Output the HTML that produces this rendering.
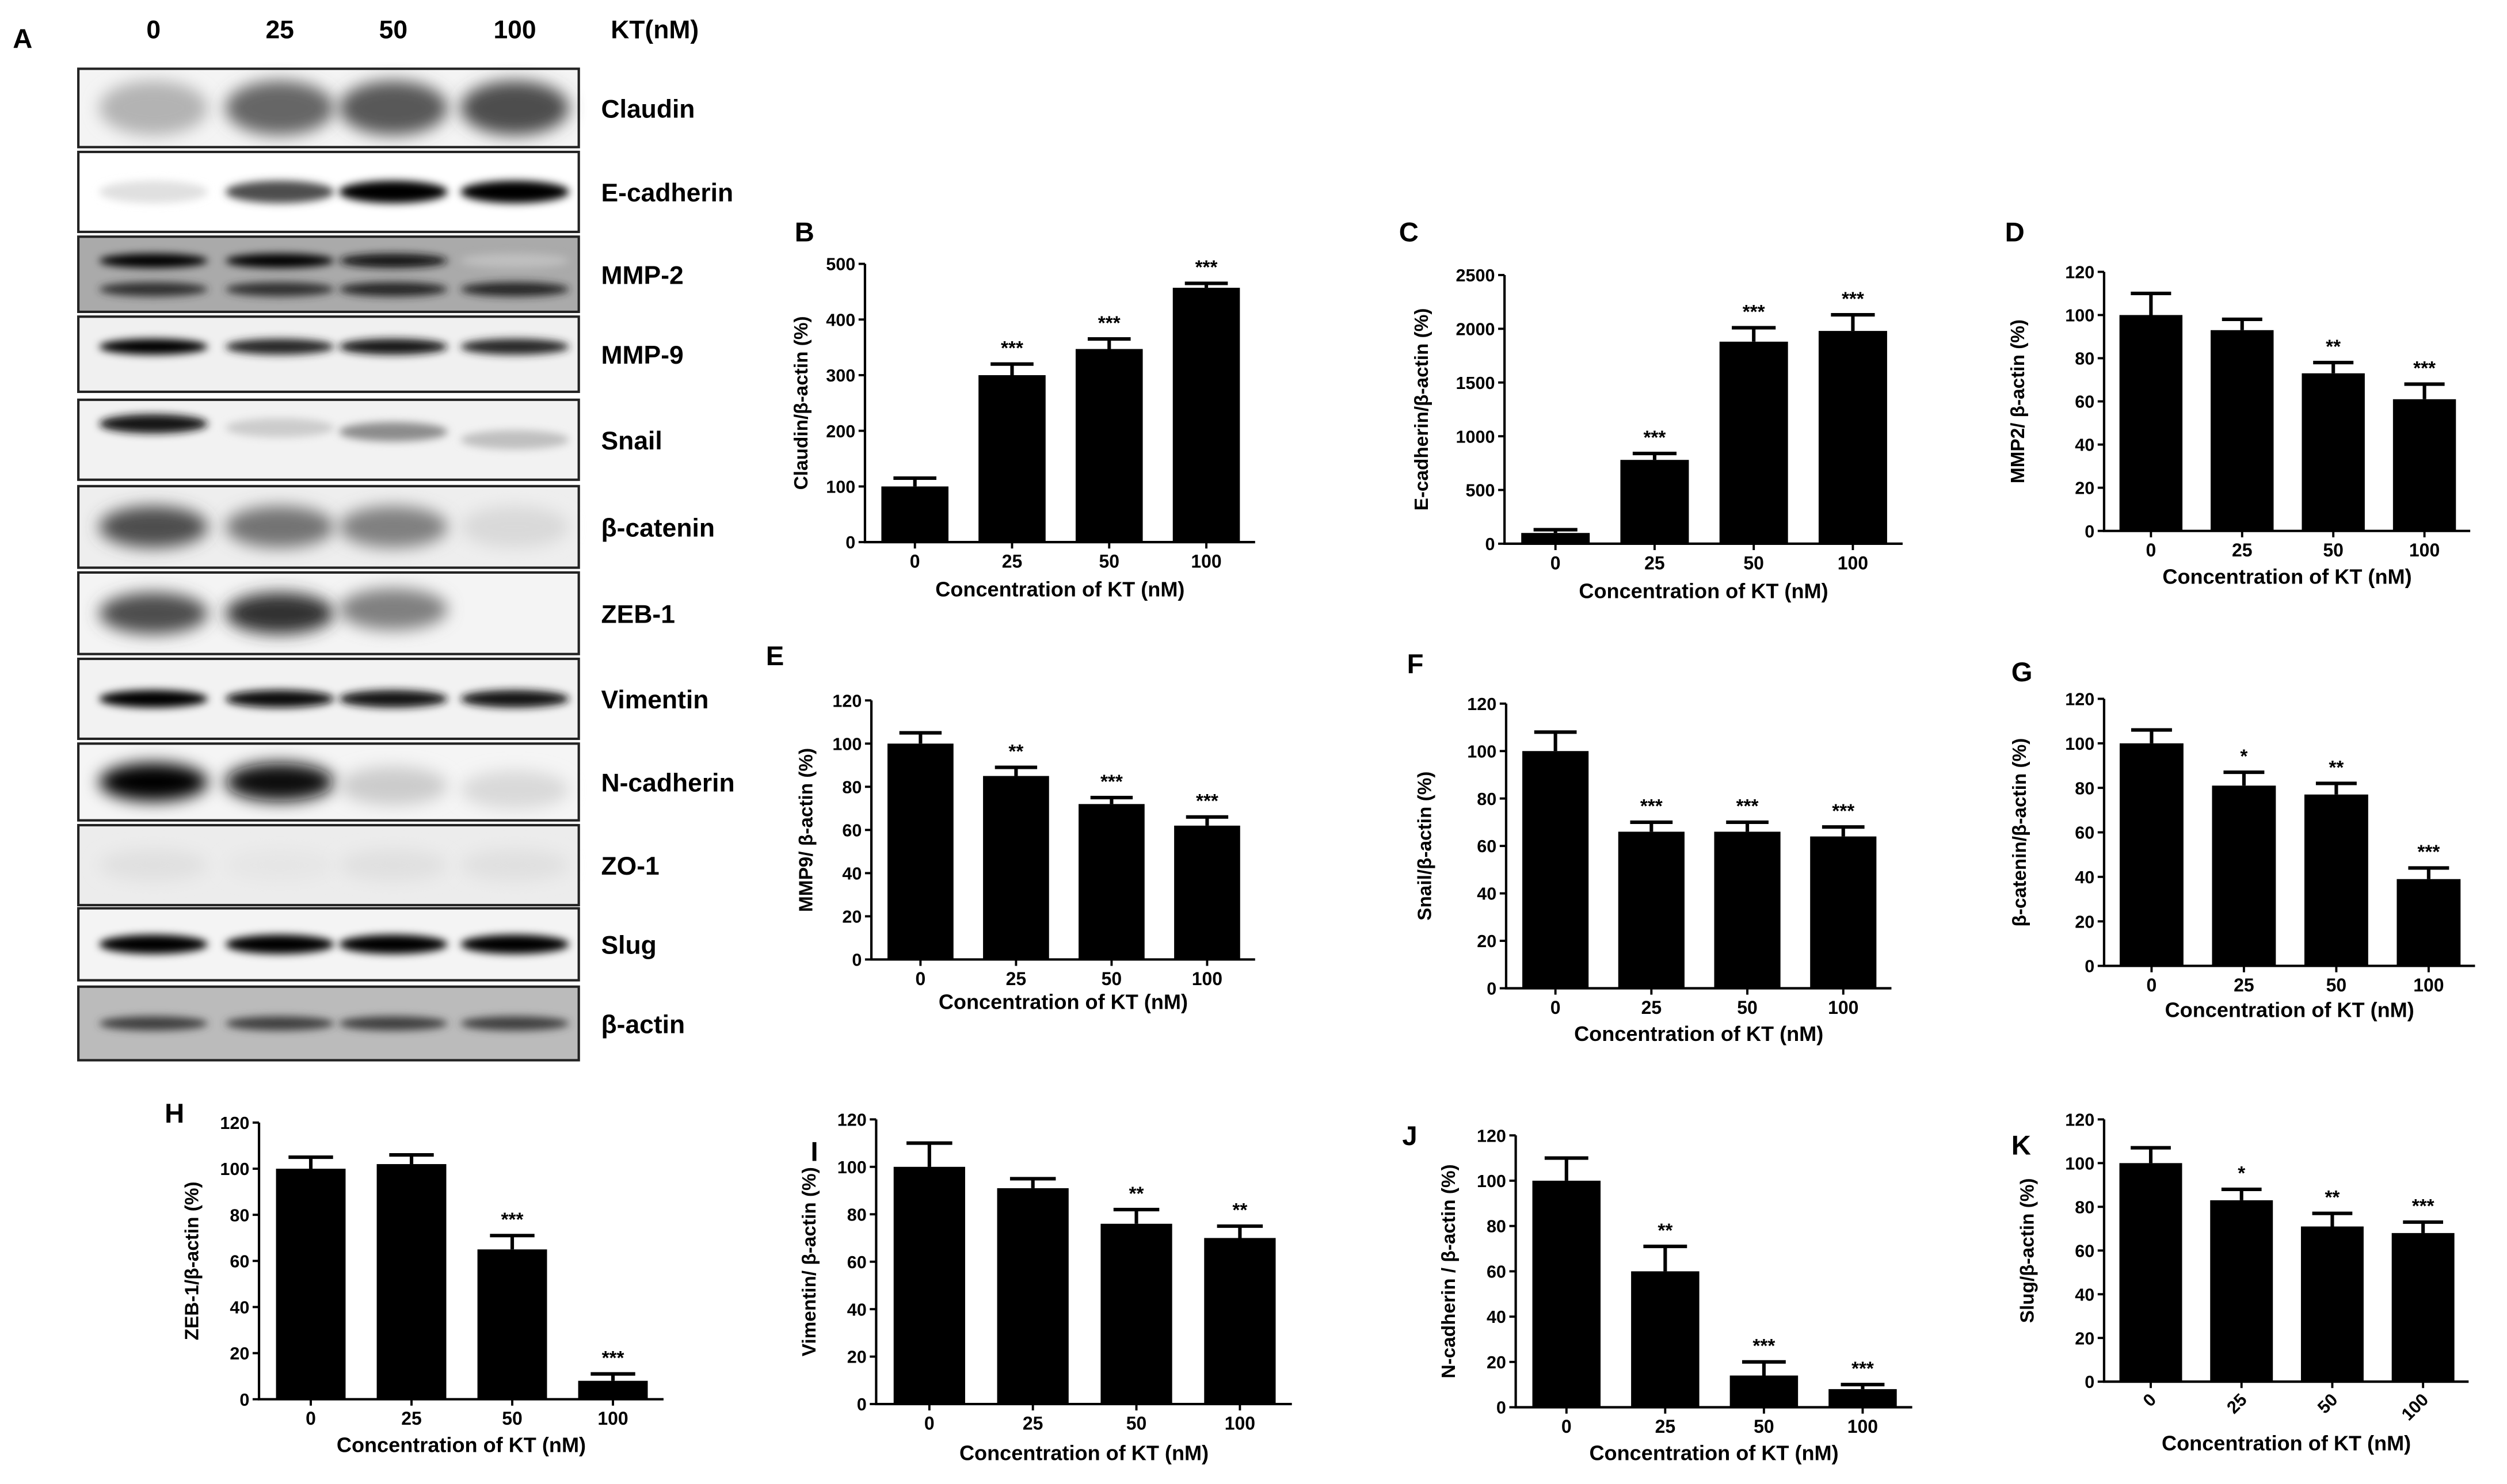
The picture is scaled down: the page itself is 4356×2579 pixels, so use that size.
<!DOCTYPE html>
<html><head><meta charset="utf-8">
<style>
html,body{margin:0;padding:0;background:#fff;}
svg{display:block;}
text{font-family:"Liberation Sans",sans-serif;font-weight:bold;fill:#000;}
</style></head>
<body>
<svg id="fig" width="4356" height="2579" viewBox="0 0 1568 928" preserveAspectRatio="none" xmlns="http://www.w3.org/2000/svg">
<defs>
<filter id="blur" x="-30%" y="-80%" width="160%" height="260%"><feGaussianBlur stdDeviation="5"/></filter>
<filter id="blur2" x="-30%" y="-80%" width="160%" height="260%"><feGaussianBlur stdDeviation="2.5"/></filter>
</defs>
<g id="blot"></g>
<g id="charts"></g>
</svg>
<script>
const NS="http://www.w3.org/2000/svg";
const blot=document.getElementById('blot');
const chartsG=document.getElementById('charts');
function mk(tag,attrs,parent,txt){const e=document.createElementNS(NS,tag);for(const k in attrs)e.setAttribute(k,attrs[k]);if(txt!==undefined)e.textContent=txt;parent.appendChild(e);return e;}

// ---------- chart data ----------
const categories=["0","25","50","100"];
const claudinValues=[100,300,347,457];   const claudinErr=[15,20,18,8];   const claudinStars=["","***","***","***"];
const ecadValues=[100,780,1880,1980];    const ecadErr=[30,60,130,150];   const ecadStars=["","***","***","***"];
const mmp2Values=[100,93,73,61];         const mmp2Err=[10,5,5,7];        const mmp2Stars=["","","**","***"];
const mmp9Values=[100,85,72,62];         const mmp9Err=[5,4,3,4];         const mmp9Stars=["","**","***","***"];
const snailValues=[100,66,66,64];        const snailErr=[8,4,4,4];        const snailStars=["","***","***","***"];
const bcatValues=[100,81,77,39];         const bcatErr=[6,6,5,5];         const bcatStars=["","*","**","***"];
const zebValues=[100,102,65,8];          const zebErr=[5,4,6,3];          const zebStars=["","","***","***"];
const vimValues=[100,91,76,70];          const vimErr=[10,4,6,5];         const vimStars=["","","**","**"];
const ncadValues=[100,60,14,8];          const ncadErr=[10,11,6,2];       const ncadStars=["","**","***","***"];
const slugValues=[100,83,71,68];         const slugErr=[7,5,6,5];         const slugStars=["","*","**","***"];
const ticks120=[0,20,40,60,80,100,120];
const ticksClaudin=[0,100,200,300,400,500];
const ticksEcad=[0,500,1000,1500,2000,2500];

const panels=[
 {id:"B",ax:541,y0:339,yTop:165,xEnd:785,vals:claudinValues,err:claudinErr,stars:claudinStars,ticks:ticksClaudin,max:500,ylab:"Claudin/β-actin (%)",ylx:505,xly:373,lab:[497,151]},
 {id:"C",ax:941,y0:340,yTop:172,xEnd:1190,vals:ecadValues,err:ecadErr,stars:ecadStars,ticks:ticksEcad,max:2500,ylab:"E-cadherin/β-actin (%)",ylx:893,xly:374,lab:[875,151]},
 {id:"D",ax:1316,y0:332,yTop:170,xEnd:1545,vals:mmp2Values,err:mmp2Err,stars:mmp2Stars,ticks:ticks120,max:120,ylab:"MMP2/ β-actin (%)",ylx:1266,xly:365,lab:[1254,151]},
 {id:"E",ax:545,y0:600,yTop:438,xEnd:785,vals:mmp9Values,err:mmp9Err,stars:mmp9Stars,ticks:ticks120,max:120,ylab:"MMP9/ β-actin (%)",ylx:508,xly:631,lab:[479,416]},
 {id:"F",ax:942,y0:618,yTop:440,xEnd:1183,vals:snailValues,err:snailErr,stars:snailStars,ticks:ticks120,max:120,ylab:"Snail/β-actin (%)",ylx:895,xly:651,lab:[880,421]},
 {id:"G",ax:1316,y0:604,yTop:437,xEnd:1548,vals:bcatValues,err:bcatErr,stars:bcatStars,ticks:ticks120,max:120,ylab:"β-catenin/β-actin (%)",ylx:1267,xly:636,lab:[1258,426]},
 {id:"H",ax:162,y0:875,yTop:702,xEnd:415,vals:zebValues,err:zebErr,stars:zebStars,ticks:ticks120,max:120,ylab:"ZEB-1/β-actin (%)",ylx:124,xly:908,lab:[103,702]},
 {id:"I",ax:548,y0:878,yTop:700,xEnd:808,vals:vimValues,err:vimErr,stars:vimStars,ticks:ticks120,max:120,ylab:"Vimentin/ β-actin (%)",ylx:510,xly:913,lab:[507,726]},
 {id:"J",ax:948,y0:880,yTop:710,xEnd:1196,vals:ncadValues,err:ncadErr,stars:ncadStars,ticks:ticks120,max:120,ylab:"N-cadherin / β-actin (%)",ylx:910,xly:913,lab:[877,716]},
 {id:"K",ax:1316,y0:864,yTop:700,xEnd:1544,vals:slugValues,err:slugErr,stars:slugStars,ticks:ticks120,max:120,ylab:"Slug/β-actin (%)",ylx:1272,xly:907,lab:[1258,722],rot:true}
];

panels.forEach(p=>{
  const g=mk('g',{},chartsG);
  
  
  const yScale=v=>p.y0-(v/p.max)*(p.y0-p.yTop);
  const L=p.xEnd-p.ax;
  const bw=L*0.172;
  const xScale=i=>p.ax+L*(0.128+0.249*i);
  const pl=mk('text',{x:p.lab[0],y:p.lab[1],'font-size':17},g,p.id);
  
  
  p.vals.forEach((v,i)=>{
    const cx=xScale(i);
    const top=yScale(v), et=yScale(v+p.err[i]);
    const eb=mk('path',{d:`M${cx} ${top} V${et} M${cx-bw*0.32} ${et} H${cx+bw*0.32}`,stroke:'#000','stroke-width':2.2,fill:'none'},g);
    
    
    const r=mk('rect',{x:cx-bw/2,y:top,width:bw,height:p.y0-top,fill:'#000'},g);
    
    
    if(p.stars[i]){
      const s=mk('text',{x:cx,y:et-6,'font-size':12,'text-anchor':'middle'},g,p.stars[i]);
      
      
    }
    mk('line',{x1:cx,x2:cx,y1:p.y0,y2:p.y0+4,stroke:'#000','stroke-width':1.4},g);
    let t;
    if(p.rot){
      t=mk('text',{x:cx+4,y:p.y0+12,'font-size':11,'text-anchor':'end',transform:`rotate(-45 ${cx+4} ${p.y0+12})`},g,categories[i]);
    } else {
      t=mk('text',{x:cx,y:p.y0+16,'font-size':11.5,'text-anchor':'middle'},g,categories[i]);
    }
    
    
  });
  const ax=mk('path',{d:`M${p.ax} ${p.yTop} V${p.y0} H${p.xEnd}`,stroke:'#000','stroke-width':1.5,fill:'none'},g);
  
  
  p.ticks.forEach(tv=>{
    const y=yScale(tv);
    mk('line',{x1:p.ax-4,x2:p.ax,y1:y,y2:y,stroke:'#000','stroke-width':1.4},g);
    const t=mk('text',{x:p.ax-6,y:y+4,'font-size':11,'text-anchor':'end'},g,String(tv));
    
    
  });
  const xt=mk('text',{x:(p.ax+p.xEnd)/2,y:p.xly,'font-size':13,'text-anchor':'middle'},g,'Concentration of KT (nM)');
  
  
  const cy=(p.y0+p.yTop)/2;
  const yt=mk('text',{x:p.ylx,y:cy,'font-size':12,'text-anchor':'middle',transform:`rotate(-90 ${p.ylx} ${cy})`},g,p.ylab);
  
  
});

// ---------- western blot ----------
const laneX=[96,175,246,322];
const blotRows=[
 {name:"Claudin",y1:43,y2:92,bg:"#f4f4f4",bands:[[0.3,0.5],[0.6,0.5],[0.65,0.5],[0.7,0.5]],h:34},
 {name:"E-cadherin",y1:95,y2:145,bg:"#fff",bands:[[0.12,0.5],[0.7,0.5],[1,0.5],[1,0.5]],h:14},
 {name:"MMP-2",y1:148,y2:195,bg:"#aaa",bands:[[1,0.32],[1,0.32],[0.9,0.32],[0.25,0.32],[0.8,0.7],[0.8,0.7],[0.85,0.7],[0.85,0.7]],h:9},
 {name:"MMP-9",y1:198,y2:245,bg:"#f0f0f0",bands:[[1,0.4],[0.85,0.4],[0.9,0.4],[0.85,0.4]],h:10},
 {name:"Snail",y1:250,y2:300,bg:"#f2f2f2",bands:[[0.9,0.3],[0.2,0.35],[0.45,0.4],[0.25,0.5]],h:12},
 {name:"β-catenin",y1:304,y2:355,bg:"#eee",bands:[[0.7,0.5],[0.55,0.5],[0.5,0.5],[0.15,0.5]],h:26},
 {name:"ZEB-1",y1:358,y2:409,bg:"#f4f4f4",bands:[[0.7,0.5],[0.8,0.5],[0.5,0.45],[0,0.5]],h:26},
 {name:"Vimentin",y1:412,y2:462,bg:"#f2f2f2",bands:[[1,0.5],[0.95,0.5],[0.9,0.5],[0.9,0.5]],h:11},
 {name:"N-cadherin",y1:465,y2:513,bg:"#f5f5f5",bands:[[1,0.5],[0.95,0.5],[0.2,0.55],[0.15,0.6]],h:24},
 {name:"ZO-1",y1:516,y2:566,bg:"#ececec",bands:[[0.12,0.5],[0.1,0.5],[0.12,0.5],[0.12,0.5]],h:20},
 {name:"Slug",y1:568,y2:613,bg:"#f4f4f4",bands:[[1,0.5],[1,0.5],[1,0.5],[1,0.5]],h:12},
 {name:"β-actin",y1:617,y2:663,bg:"#bbb",bands:[[0.75,0.5],[0.75,0.5],[0.75,0.5],[0.75,0.5]],h:9}
];
const hdr=[["A",8,30,"start"],["0",96,24,"middle"],["25",175,24,"middle"],["50",246,24,"middle"],["100",322,24,"middle"],["KT(nM)",382,24,"start"]];
hdr.forEach(h=>{
  const t=mk('text',{x:h[1],y:h[2],'font-size':h[0]==="A"?17:16,'text-anchor':h[3]},blot,h[0]);
  
  
});
blotRows.forEach(r=>{
  const g=mk('g',{},blot);
  
  
  mk('rect',{x:49,y:r.y1,width:313,height:r.y2-r.y1,fill:r.bg},g);
  const hh=r.y2-r.y1;
  r.bands.forEach((b,i)=>{
    const lx=laneX[i%4];
    if(b[0]<=0)return;
    const gray=Math.round(255*(1-b[0]));
    mk('ellipse',{cx:lx,cy:r.y1+hh*b[1],rx:34,ry:r.h/2,fill:`rgb(${gray},${gray},${gray})`,filter:r.h>18?'url(#blur)':'url(#blur2)'},g);
  });
  mk('rect',{x:49,y:r.y1,width:313,height:r.y2-r.y1,fill:'none',stroke:'#222','stroke-width':1.5},g);
  const t=mk('text',{x:376,y:(r.y1+r.y2)/2+6,'font-size':16},g,r.name);
  
  
});
</script>
</body></html>
